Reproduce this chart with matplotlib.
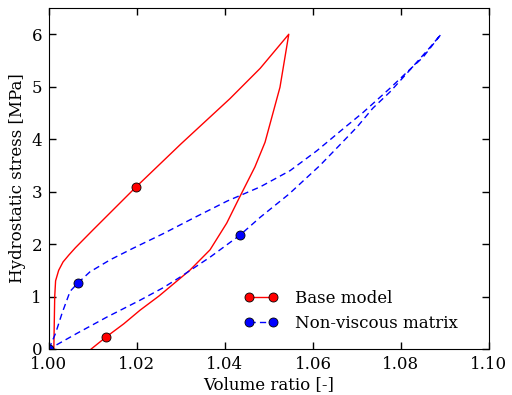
import matplotlib
matplotlib.use("Agg")
import matplotlib.pyplot as plt

# base model: loading then unloading branch
base_load_x = [1.0011, 1.0012, 1.0013, 1.0015, 1.0022, 1.0032, 1.0045, 1.0060,
               1.0100, 1.0198, 1.0300, 1.0411, 1.0480, 1.0545]
base_load_y = [0.0, 0.5, 1.0, 1.30, 1.50, 1.66, 1.79, 1.93,
               2.27, 3.09, 3.91, 4.77, 5.35, 6.0]
base_unload_x = [1.0525, 1.0491, 1.0468, 1.0430, 1.0404, 1.0366, 1.0320, 1.0280,
                 1.0250, 1.0207, 1.0170, 1.0130, 1.0096]
base_unload_y = [4.99, 3.94, 3.47, 2.84, 2.40, 1.89, 1.50, 1.22,
                 1.01, 0.74, 0.48, 0.23, 0.0]

# non-viscous matrix
nv_load_x = [1.0, 1.0015, 1.0030, 1.0048, 1.0066, 1.0093, 1.0139, 1.0191, 1.0260,
             1.0327, 1.0405, 1.0480, 1.0548, 1.0609, 1.0669, 1.0714, 1.0775,
             1.0814, 1.0850, 1.0891]
nv_load_y = [0.0, 0.30, 0.69, 1.10, 1.26, 1.47, 1.70, 1.92, 2.20,
             2.49, 2.82, 3.09, 3.40, 3.78, 4.20, 4.51, 4.97,
             5.28, 5.56, 6.0]
nv_unload_x = [1.0866, 1.0814, 1.0775, 1.0736, 1.0700, 1.0661, 1.0616, 1.0545,
               1.0480, 1.0434, 1.0366, 1.0298, 1.0260, 1.0207, 1.0132, 1.0064,
               1.0009, 1.0]
nv_unload_y = [5.75, 5.26, 4.90, 4.59, 4.23, 3.89, 3.50, 2.95,
               2.51, 2.17, 1.75, 1.37, 1.17, 0.93, 0.61, 0.30,
               0.04, 0.0]

base_x = base_load_x + base_unload_x
base_y = base_load_y + base_unload_y
nv_x = nv_load_x + nv_unload_x
nv_y = nv_load_y + nv_unload_y

base_marks = [9, 25]
nv_marks = [0, 4, 29]

plt.rcParams['font.family'] = 'DejaVu Serif'
plt.rcParams['font.size'] = 12

fig = plt.figure(figsize=(5.12, 3.95), dpi=100)
ax = fig.add_axes([0.0957, 0.1165, 0.8593, 0.8632])

ax.plot(base_x, base_y, 'r-', lw=1.0, marker='o', markersize=6.5,
        markeredgecolor='k', markeredgewidth=0.6, markevery=base_marks,
        label='Base model')
ax.plot(nv_x, nv_y, 'b--', lw=1.0, dashes=(4.5, 3), marker='o', markersize=6.5,
        markeredgecolor='k', markeredgewidth=0.6, markevery=nv_marks,
        label='Non-viscous matrix')

ax.set_xlim(1.0, 1.1)
ax.set_ylim(0, 6.5)
ax.set_xticks([1.00, 1.02, 1.04, 1.06, 1.08, 1.10])
ax.set_yticks([0, 1, 2, 3, 4, 5, 6])
ax.tick_params(direction='in', top=True, right=True, length=5, width=1, pad=5)
ax.set_xlabel('Volume ratio [-]', labelpad=2)
ax.set_ylabel('Hydrostatic stress [MPa]', labelpad=4)

ax.legend(loc='lower left', bbox_to_anchor=(0.41, 0.005), frameon=False,
          numpoints=2, handlelength=2.0, handletextpad=1.06, fontsize=12,
          labelspacing=0.5)

fig.savefig('out.png', dpi=100)
